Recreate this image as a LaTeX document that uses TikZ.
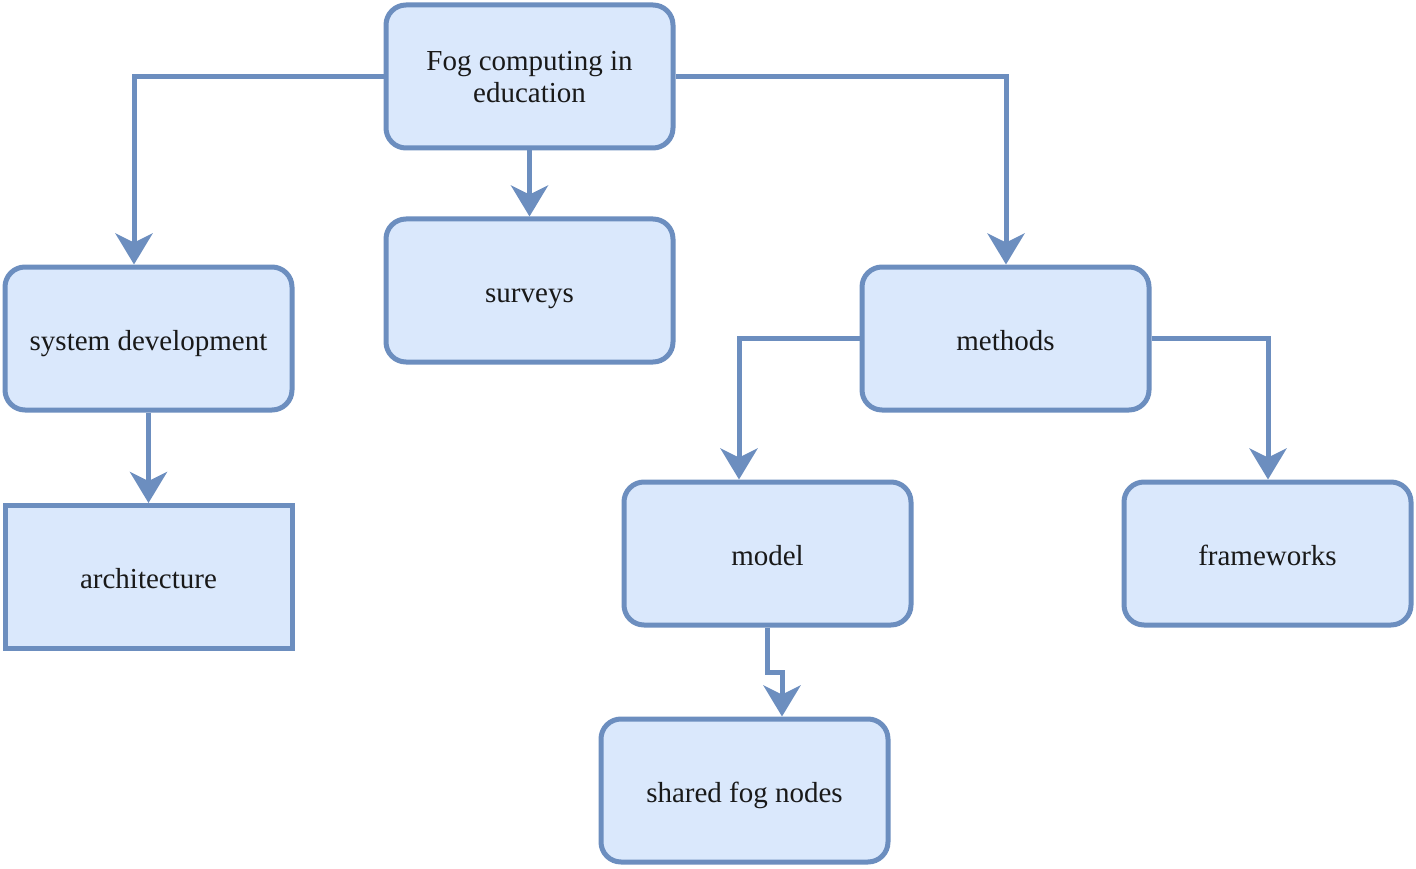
\documentclass[tikz,border=0pt]{standalone}
\usepackage{fontspec}
\setmainfont{Liberation Serif}
\usetikzlibrary{arrows.meta,calc}
\definecolor{strokeblue}{HTML}{6C8EBF}
\definecolor{fillblue}{HTML}{DAE8FC}
\begin{document}
\begin{tikzpicture}[x=1pt,y=-1pt,
  box/.style={draw=strokeblue,fill=fillblue,line width=5pt,rounded corners=20pt,
    minimum width=287pt,minimum height=143pt,align=center,inner sep=0pt,
    text height=23pt,text depth=0pt,
    font=\fontsize{29}{32}\selectfont,text=black!90},
  sqbox/.style={box,rounded corners=0pt},
  conn/.style={draw=strokeblue,line width=5pt,-{Stealth[length=31pt,width=37pt,inset=9pt]}}]
\useasboundingbox (0,0) rectangle (1416,869);
\node[box,text height=53pt] (root) at (529.5,76.5) {Fog computing in\\education};
\node[box] (surveys) at (529.5,290.5) {surveys};
\node[box] (sysdev) at (148.5,338.5) {system development};
\node[box] (methods) at (1005.5,338.5) {methods};
\node[sqbox] (arch) at (148.5,577) {architecture};
\node[box] (model) at (767.5,553.5) {model};
\node[box] (frame) at (1267.5,553.5) {frameworks};
\node[box] (shared) at (744.5,790.5) {shared fog nodes};
\coordinate (lturn) at (134,76.5);
\coordinate (rturn) at (1006,76.5);
\coordinate (mlturn) at (739,338.5);
\coordinate (mrturn) at (1268,338.5);
\coordinate (kink) at (782,672);
\draw[conn] (root.west) -- (lturn) -- (lturn |- sysdev.north);
\draw[conn] (root.east) -- (rturn) -- (rturn |- methods.north);
\draw[conn] (root.south) -- (surveys.north);
\draw[conn] (sysdev.south) -- (arch.north);
\draw[conn] (methods.west) -- (mlturn) -- (mlturn |- model.north);
\draw[conn] (methods.east) -- (mrturn) -- (mrturn |- frame.north);
\draw[conn] (model.south) |- (kink) -- (kink |- shared.north);
\end{tikzpicture}
\end{document}
